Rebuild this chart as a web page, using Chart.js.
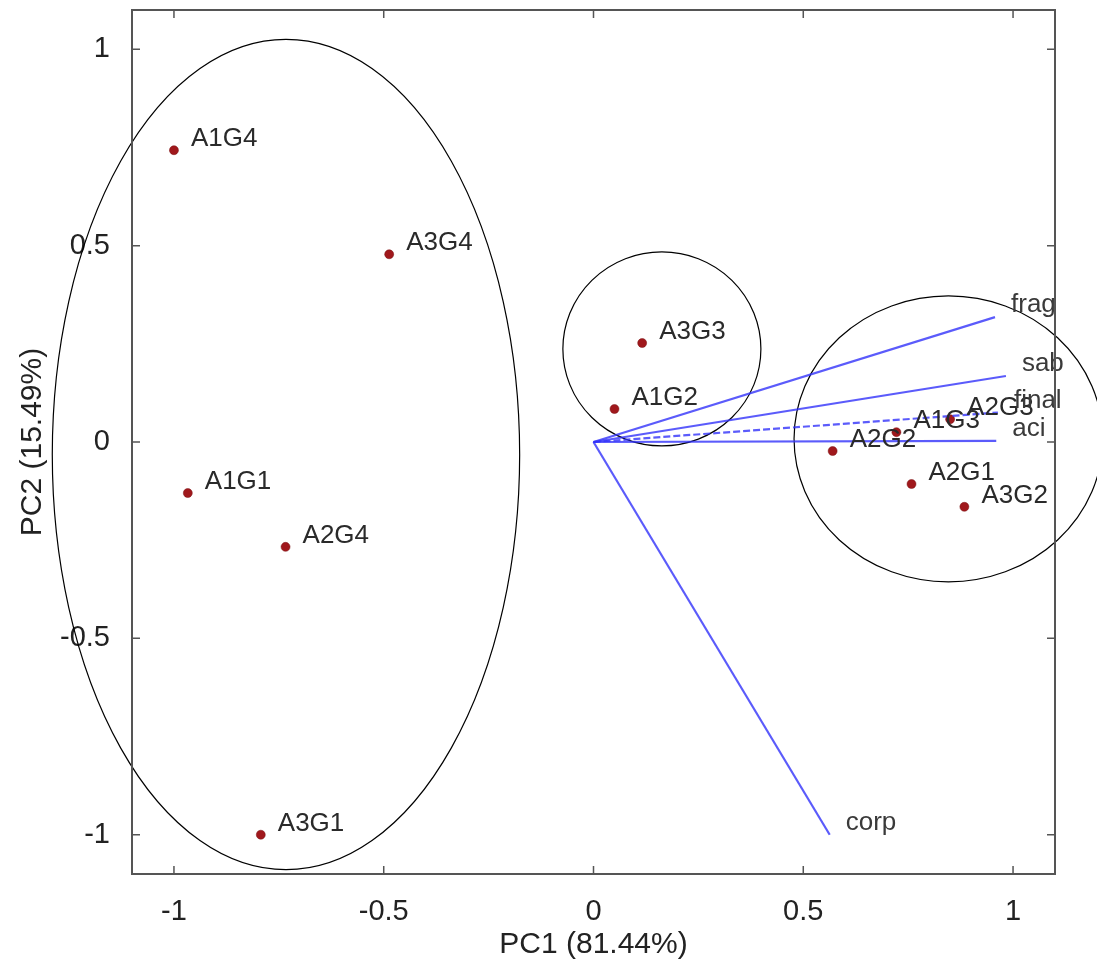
<!DOCTYPE html>
<html>
<head>
<meta charset="utf-8">
<script src="https://cdn.jsdelivr.net/npm/chart.js@4/dist/chart.umd.min.js"></script>
<style>
  body { margin: 0; background: #fff; }
  #wrap { width: 1097px; height: 961px; }
</style>
</head>
<body>
<div id="wrap"><canvas id="biplot" width="1097" height="961"></canvas></div>
<script>
// sample scores
const scoreNames = ['A1G4', 'A3G4', 'A1G1', 'A2G4', 'A3G1', 'A3G3', 'A1G2', 'A2G2', 'A1G3', 'A2G3', 'A2G1', 'A3G2'];
const scorePC1 = [-1.0, -0.487, -0.967, -0.734, -0.793, 0.116, 0.05, 0.57, 0.722, 0.85, 0.758, 0.884];
const scorePC2 = [0.743, 0.478, -0.13, -0.267, -1.0, 0.252, 0.084, -0.023, 0.025, 0.058, -0.107, -0.165];

// variable loadings
const varNames = ['frag', 'sab', 'final', 'aci', 'corp'];
const varPC1 = [0.957, 0.983, 0.964, 0.96, 0.563];
const varPC2 = [0.318, 0.168, 0.075, 0.003, -1.0];

// group ellipses (data units)
const groupCX = [-0.733, 0.163, 0.846];
const groupCY = [-0.032, 0.237, 0.008];
const groupRX = [0.557, 0.236, 0.368];
const groupRY = [1.057, 0.247, 0.364];

const xTicks = [-1, -0.5, 0, 0.5, 1];
const yTicks = [-1, -0.5, 0, 0.5, 1];

const FONT = 'Arial, "Liberation Sans", Helvetica, sans-serif';

const scoreData = scoreNames.map((n, i) => ({ x: scorePC1[i], y: scorePC2[i], label: n }));

const vectorSets = varNames.map((n, i) => ({
  label: n,
  type: 'line',
  data: [{ x: 0, y: 0 }, { x: varPC1[i], y: varPC2[i] }],
  borderColor: 'rgba(50, 50, 250, 0.8)',
  borderWidth: 2.2,
  borderDash: n === 'final' ? [7, 3] : [],
  pointRadius: 0,
  fill: false,
  tension: 0
}));

const decor = {
  id: 'decor',
  beforeDatasetsDraw(chart) {
    const { ctx, scales: { x, y } } = chart;
    ctx.save();
    ctx.strokeStyle = '#000';
    ctx.lineWidth = 1.2;
    groupCX.forEach((cx, i) => {
      const px = x.getPixelForValue(cx), py = y.getPixelForValue(groupCY[i]);
      const rx = Math.abs(x.getPixelForValue(cx + groupRX[i]) - px);
      const ry = Math.abs(y.getPixelForValue(groupCY[i] + groupRY[i]) - py);
      ctx.beginPath();
      ctx.ellipse(px, py, rx, ry, 0, 0, Math.PI * 2);
      ctx.stroke();
    });
    ctx.restore();
  },
  afterDatasetsDraw(chart) {
    const { ctx, scales: { x, y } } = chart;
    ctx.save();
    ctx.font = '26px ' + FONT;
    ctx.textBaseline = 'alphabetic';
    ctx.fillStyle = '#2a2a2a';
    scoreData.forEach(p => {
      ctx.fillText(p.label, x.getPixelForValue(p.x) + 17, y.getPixelForValue(p.y) - 4);
    });
    ctx.fillStyle = '#3a3a3a';
    varNames.forEach((n, i) => {
      ctx.fillText(n, x.getPixelForValue(varPC1[i]) + 16, y.getPixelForValue(varPC2[i]) - 5);
    });
    ctx.restore();
  },
  afterDraw(chart) {
    const { ctx, chartArea: a, scales: { x, y } } = chart;
    ctx.save();
    ctx.strokeStyle = '#555';
    ctx.lineWidth = 2;
    ctx.strokeRect(a.left, a.top, a.right - a.left, a.bottom - a.top);
    ctx.lineWidth = 1.5;
    ctx.beginPath();
    xTicks.forEach(v => {
      const px = x.getPixelForValue(v);
      ctx.moveTo(px, a.bottom); ctx.lineTo(px, a.bottom - 8);
      ctx.moveTo(px, a.top); ctx.lineTo(px, a.top + 8);
    });
    yTicks.forEach(v => {
      const py = y.getPixelForValue(v);
      ctx.moveTo(a.left, py); ctx.lineTo(a.left + 8, py);
      ctx.moveTo(a.right, py); ctx.lineTo(a.right - 8, py);
    });
    ctx.stroke();
    ctx.restore();
  }
};

new Chart(document.getElementById('biplot'), {
  type: 'scatter',
  data: {
    datasets: [
      ...vectorSets,
      {
        label: 'scores',
        data: scoreData,
        backgroundColor: '#a0181c',
        borderColor: '#7a1214',
        borderWidth: 0.5,
        pointRadius: 4.5
      }
    ]
  },
  options: {
    responsive: false,
    animation: false,
    layout: { padding: { top: 10, right: 42, left: 0, bottom: 0 } },
    plugins: { legend: { display: false }, tooltip: { enabled: false } },
    scales: {
      x: {
        type: 'linear',
        min: -1.1,
        max: 1.1,
        grid: { display: false },
        border: { display: false },
        afterBuildTicks: s => { s.ticks = xTicks.map(v => ({ value: v })); },
        afterFit: s => { s.height = 87; s.paddingLeft = 0; s.paddingRight = 0; },
        ticks: {
          color: '#222',
          padding: 13,
          maxRotation: 0,
          font: { family: FONT, size: 29 },
          callback: v => String(v)
        },
        title: {
          display: true,
          text: 'PC1 (81.44%)',
          color: '#222',
          font: { family: FONT, size: 30, lineHeight: 1 },
          padding: { top: 0, bottom: 1 }
        }
      },
      y: {
        type: 'linear',
        min: -1.1,
        max: 1.1,
        grid: { display: false },
        border: { display: false },
        afterBuildTicks: s => { s.ticks = yTicks.map(v => ({ value: v })); },
        afterFit: s => { s.width = 132; s.paddingTop = 0; s.paddingBottom = 0; },
        ticks: {
          color: '#222',
          padding: 14,
          font: { family: FONT, size: 29 },
          callback: v => String(v)
        },
        title: {
          display: true,
          text: 'PC2 (15.49%)',
          color: '#222',
          font: { family: FONT, size: 30, lineHeight: 1 },
          padding: { top: 18, bottom: 0 }
        }
      }
    }
  },
  plugins: [decor]
});
</script>
</body>
</html>
